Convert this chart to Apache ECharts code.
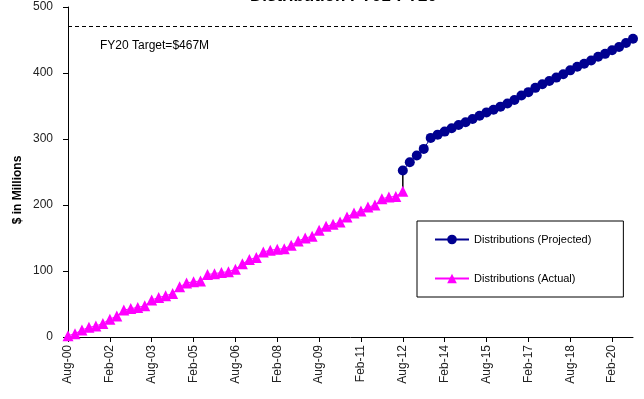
<!DOCTYPE html>
<html><head><meta charset="utf-8">
<script src="https://cdn.jsdelivr.net/npm/echarts@6/dist/echarts.min.js"></script>
<style>html,body{margin:0;padding:0;background:#fff}#c{width:644px;height:399px}</style>
</head><body><div id="c"></div>
<script>
var categories = [
 'Aug-00','Nov-00','Feb-01','May-01','Aug-01','Nov-01','Feb-02','May-02','Aug-02','Nov-02',
 'Feb-03','May-03','Aug-03','Nov-03','Feb-04','May-04','Aug-04','Nov-04','Feb-05','May-05',
 'Aug-05','Nov-05','Feb-06','May-06','Aug-06','Nov-06','Feb-07','May-07','Aug-07','Nov-07',
 'Feb-08','May-08','Aug-08','Nov-08','Feb-09','May-09','Aug-09','Nov-09','Feb-10','May-10',
 'Aug-10','Nov-10','Feb-11','May-11','Aug-11','Nov-11','Feb-12','May-12','Aug-12','Nov-12',
 'Feb-13','May-13','Aug-13','Nov-13','Feb-14','May-14','Aug-14','Nov-14','Feb-15','May-15',
 'Aug-15','Nov-15','Feb-16','May-16','Aug-16','Nov-16','Feb-17','May-17','Aug-17','Nov-17',
 'Feb-18','May-18','Aug-18','Nov-18','Feb-19','May-19','Aug-19','Nov-19','Feb-20','May-20',
 'Aug-20','Nov-20'
];
// Actual distributions (index 0..48)
var actual = [
 2, 5, 10.6, 14.6, 16.6, 20.6, 27, 31.7, 40.8, 43,
 44.8, 47.3, 56, 60, 62.4, 66, 76, 82, 83.6, 85,
 94.7, 96, 97.7, 99, 102.7, 111, 117.3, 120.3, 128.9, 131.4,
 132.9, 133.9, 139, 145.5, 150, 152.6, 161.6, 167.7, 170.7, 174.2,
 181.8, 187.8, 190.8, 196.8, 199.9, 209.5, 212, 213, 221
];
// Projected distributions (index 48..81)
var projectedStart = 48;
var projectedValues = [
 252.3, 264.8, 275, 285, 301.7, 306.6, 311.2, 316.2, 321.3, 325.3,
 330.3, 335.3, 340.3, 344.4, 349, 353.9, 359, 366, 371, 377.5,
 383, 388, 393, 398, 404, 409.5, 414, 419, 424.5, 429,
 434.5, 439.5, 445.5, 452
];
var targetValue = 471;
var targetLabel = 'FY20 Target=$467M';
var yTicks = [0, 100, 200, 300, 400, 500];
var titleText = 'Distribution FY01-FY20';

var projected = categories.map(function(c, i){
  return i < projectedStart ? '-' : projectedValues[i - projectedStart];
});
var connector = [[projectedStart, actual[projectedStart]], [projectedStart, projectedValues[0]]];

var chart = echarts.init(document.getElementById('c'), null, {renderer:'canvas'});
var font = 'Liberation Sans, Arial, sans-serif';
chart.setOption({
  animation: false,
  backgroundColor: '#fff',
  title: {text: titleText, left: 250, top: -12, padding: 0,
    textStyle: {fontFamily: font, fontSize: 17, fontWeight: 'bold', color: '#000'}},
  grid: {left: 68, right: 11, top: 7, bottom: 62, containLabel: false},
  legend: {
    orient: 'vertical', left: 417, top: 221, selectedMode: false,
    data: ['Distributions (Projected)', 'Distributions (Actual)'],
    borderColor: '#000', borderWidth: 1, backgroundColor: '#fff',
    padding: [13, 32, 13, 17], itemGap: 28, itemWidth: 34, itemHeight: 12,
    textStyle: {fontFamily: font, fontSize: 11, color: '#000'}
  },
  xAxis: {
    type: 'category', data: categories, boundaryGap: false,
    axisLine: {lineStyle: {color: '#000', width: 1}},
    axisTick: {interval: 5, length: 5, lineStyle: {color: '#000'}},
    axisLabel: {interval: 5, rotate: 90, fontFamily: font, fontSize: 12, color: '#222', margin: 8}
  },
  yAxis: {
    type: 'value', min: yTicks[0], max: yTicks[yTicks.length-1], interval: 100,
    axisLine: {show: true, lineStyle: {color: '#000', width: 1}},
    axisTick: {show: true, length: 5, lineStyle: {color: '#000'}},
    splitLine: {show: false},
    axisLabel: {fontFamily: font, fontSize: 12, color: '#222', margin: 15}
  },
  graphic: [
    {type: 'text', left: 100, top: 40, style: {text: targetLabel, fontFamily: font, fontSize: 12, fill: '#000'}},
    {type: 'text', x: 18, y: 190, rotation: Math.PI/2, style: {text: '$ in Millions', fontFamily: font,
      fontSize: 12, fontWeight: 'bold', fill: '#000', align: 'center', verticalAlign: 'middle'}}
  ],
  series: [
    {name: 'Connector', type: 'line', data: connector, symbol: 'none', silent: true,
      lineStyle: {color: '#000', width: 1.5}, z: 1},
    {name: 'Distributions (Projected)', type: 'line', data: projected, symbol: 'circle', symbolSize: 10,
      showAllSymbol: true,
      itemStyle: {color: '#000090'}, lineStyle: {color: '#000090', width: 1}, z: 3,
      markLine: {silent: true, symbol: 'none', label: {show: false},
        lineStyle: {color: '#000', type: [4, 3], width: 1},
        data: [{yAxis: targetValue}]}},
    {name: 'Distributions (Actual)', type: 'line', data: actual, symbol: 'triangle', symbolSize: 11,
      showAllSymbol: true,
      itemStyle: {color: '#ff00ff'}, lineStyle: {color: '#ff00ff', width: 1}, z: 2}
  ]
});
</script></body></html>
